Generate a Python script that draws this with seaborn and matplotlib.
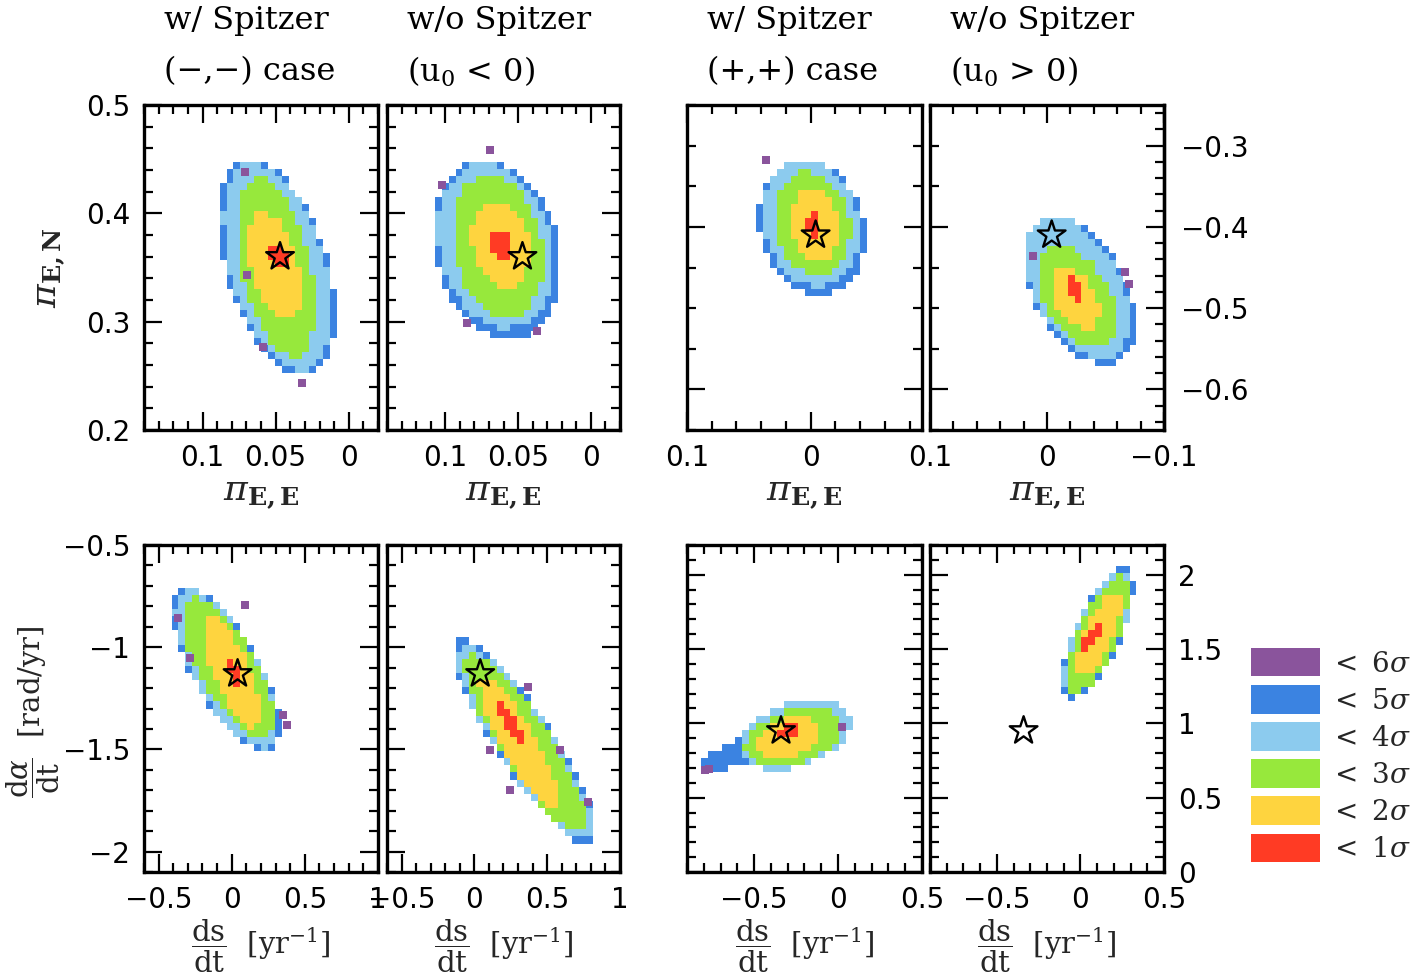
import numpy as np
import matplotlib
matplotlib.use("Agg")
import matplotlib.pyplot as plt
from matplotlib.colors import ListedColormap
from matplotlib.ticker import MultipleLocator, FuncFormatter, FixedLocator
from matplotlib.patches import Patch
import seaborn as sns

sns.set_theme(style="white")
plt.rcParams["font.family"] = ["DejaVu Sans"]
plt.rcParams["mathtext.fontset"] = "dejavuserif"

# ---------------- data ----------------
sigma_labels = [r"$<\ 1\sigma$", r"$<\ 2\sigma$", r"$<\ 3\sigma$",
                r"$<\ 4\sigma$", r"$<\ 5\sigma$", r"$<\ 6\sigma$"]
level_colors = ["#FF3B24", "#FED43F", "#97E83C", "#8CCBEE", "#3B83E1", "#8A549C"]

# right-hand tick values of the (+,+) pi_E panel
D_right_ticks = [-0.6, -0.5, -0.4, -0.3]

# Level regions (1 sigma ... 6 sigma): centre, half-extents, correlation
# Panel A: pi_E,N vs pi_E,E, w/ Spitzer (-,-)
A_cx = [0.048, 0.0504, 0.0497, 0.049, 0.049, 0.049]
A_cy = [0.360, 0.351, 0.350, 0.351, 0.350, 0.350]
A_hx = [0.006, 0.0185, 0.0267, 0.037, 0.040, 0.040]
A_hy = [0.011, 0.050, 0.0827, 0.096, 0.100, 0.100]
A_rho = [0.45, 0.45, 0.45, 0.45, 0.45, 0.45]
A_out_x = [0.071, 0.032, 0.0696, 0.0586]
A_out_y = [0.438, 0.243, 0.343, 0.2766]
A_star = (0.047, 0.36)

# Panel B: w/o Spitzer (u0 < 0)
B_cx = [0.0617, 0.0617, 0.064, 0.0658, 0.064, 0.064]
B_cy = [0.370, 0.372, 0.370, 0.370, 0.366, 0.366]
B_hx = [0.0075, 0.020, 0.031, 0.040, 0.044, 0.044]
B_hy = [0.014, 0.040, 0.066, 0.076, 0.083, 0.083]
B_rho = [0.2, 0.2, 0.2, 0.2, 0.2, 0.2]
B_out_x = [0.0692, 0.102, 0.085, 0.0369]
B_out_y = [0.4585, 0.426, 0.2987, 0.2913]
B_star = (0.047, 0.36)

# Panel C: w/ Spitzer (+,+)
C_cx = [-0.0025, -0.003, -0.001, 0.0, -0.001, -0.001]
C_cy = [-0.398, -0.398, -0.396, -0.395, -0.400, -0.400]
C_hx = [0.006, 0.019, 0.031, 0.039, 0.043, 0.043]
C_hy = [0.016, 0.048, 0.064, 0.078, 0.084, 0.084]
C_rho = [0.15, 0.15, 0.15, 0.15, 0.15, 0.15]
C_out_x = [0.036]
C_out_y = [-0.318]
C_star = (-0.004, -0.41)

# Panel D: w/o Spitzer (u0 > 0)
D_cx = [-0.025, -0.024, -0.026, -0.026, -0.028, -0.028]
D_cy = [-0.476, -0.487, -0.487, -0.475, -0.478, -0.478]
D_hx = [0.007, 0.021, 0.034, 0.044, 0.048, 0.048]
D_hy = [0.016, 0.039, 0.063, 0.0875, 0.092, 0.092]
D_rho = [0.45, 0.45, 0.45, 0.45, 0.45, 0.45]
D_out_x = [-0.067, -0.070, 0.012]
D_out_y = [-0.4556, -0.470, -0.436]
D_star = (-0.004, -0.41)

# Panel E: dalpha/dt vs ds/dt, w/ Spitzer (-,-)
E_cx = [0.02, 0.0, -0.03, -0.04, -0.04, -0.04]
E_cy = [-1.12, -1.12, -1.097, -1.107, -1.107, -1.107]
E_hx = [0.05, 0.195, 0.31, 0.349, 0.37, 0.37]
E_hy = [0.07, 0.27, 0.34, 0.387, 0.40, 0.40]
E_rho = [-0.72, -0.72, -0.72, -0.72, -0.72, -0.72]
E_out_x = [-0.3675, -0.285, 0.09, 0.35, 0.378]
E_out_y = [-0.857, -1.053, -0.794, -1.332, -1.38]
E_star = (0.04, -1.13)

# Panel F: w/o Spitzer (u0 < 0)
F_cx = [0.25, 0.31, 0.35, 0.345, 0.345, 0.345]
F_cy = [-1.37, -1.47, -1.47, -1.466, -1.466, -1.466]
F_hx = [0.09, 0.275, 0.42, 0.464, 0.49, 0.49]
F_hy = [0.10, 0.325, 0.44, 0.477, 0.50, 0.50]
F_rho = [-0.88, -0.88, -0.88, -0.88, -0.88, -0.88]
F_out_x = [0.368, 0.588, 0.245, 0.78, 0.107]
F_out_y = [-1.195, -1.503, -1.699, -1.757, -1.503]
F_star = (0.04, -1.13)

# Panel G: w/ Spitzer (+,+)
G_cx = [-0.29, -0.296, -0.263, -0.257, -0.40, -0.40]
G_cy = [0.95, 0.90, 0.91, 0.92, 0.88, 0.88]
G_hx = [0.07, 0.19, 0.29, 0.33, 0.42, 0.42]
G_hy = [0.05, 0.145, 0.20, 0.235, 0.20, 0.20]
G_rho = [0.35, 0.35, 0.35, 0.35, 0.85, 0.85]
G_out_x = [-0.79, -0.77, 0.023]
G_out_y = [0.686, 0.69, 0.975]
G_star = (-0.34, 0.95)

# Panel H: w/o Spitzer (u0 > 0)
H_cx = [0.08, 0.108, 0.10, 0.10, 0.10, 0.10]
H_cy = [1.594, 1.595, 1.59, 1.60, 1.60, 1.60]
H_hx = [0.06, 0.13, 0.185, 0.208, 0.217, 0.217]
H_hy = [0.10, 0.28, 0.40, 0.42, 0.44, 0.44]
H_rho = [0.72, 0.72, 0.72, 0.72, 0.72, 0.72]
H_out_x = []
H_out_y = []
H_star = (-0.34, 0.95)

titles_top = ["w/ Spitzer", "w/o Spitzer", "w/ Spitzer", "w/o Spitzer"]
titles_sub = ["(\u2212,\u2212) case", r"(u$_{\rm 0}$ < 0)", "(+,+) case", r"(u$_{\rm 0}$ > 0)"]

# ---------------- figure ----------------
W, H = 1422, 980
fig = plt.figure(figsize=(W / 100, H / 100), dpi=100)
fig.patch.set_facecolor("white")

lefts = [144, 387, 687, 930]
widths = [234, 233, 235, 234]
top_row = (430, 325)
bot_row = (872, 327)

cmap = ListedColormap(level_colors)
TICK_FS = 20


def fmt(v, pos):
    s = "%g" % round(v, 6)
    if s == "-0":
        s = "0"
    return s.replace("-", "\u2212")


def make_ax(i, row):
    yb, h = row
    return fig.add_axes([lefts[i] / W, 1 - yb / H, widths[i] / W, h / H])


def draw_panel(ax, cx, cy, hx, hy, rho, xlim, ylim, outx, outy, star, nx=34, ny=46):
    xe = np.linspace(min(xlim), max(xlim), nx + 1)
    ye = np.linspace(min(ylim), max(ylim), ny + 1)
    xc = 0.5 * (xe[:-1] + xe[1:])
    yc = 0.5 * (ye[:-1] + ye[1:])
    X, Y = np.meshgrid(xc, yc)
    lev = np.full(X.shape, np.nan)
    for k in reversed(range(6)):
        u = (X - cx[k]) / hx[k]
        v = (Y - cy[k]) / hy[k]
        r = rho[k]
        d2 = (u * u - 2 * r * u * v + v * v) / (1 - r * r)
        lev[d2 <= 1.0] = k
    ax.pcolormesh(xe, ye, np.ma.masked_invalid(lev), cmap=cmap, vmin=-0.5, vmax=5.5,
                  shading="flat", edgecolors="none", antialiased=False)
    if len(outx):
        sns.scatterplot(x=outx, y=outy, ax=ax, marker="s", s=40, color=level_colors[5],
                        linewidth=0, legend=False)
    sns.scatterplot(x=[star[0]], y=[star[1]], ax=ax, marker="*", s=440, color="black",
                    linewidth=1.7, legend=False, zorder=5)
    ax.collections[-1].set_facecolor("none")
    ax.collections[-1].set_edgecolor("black")
    ax.set_xlim(xlim)
    ax.set_ylim(ylim)


def style(ax, xmaj, xmin, ymaj, ymin, labelleft=False, labelright=False, right=True, left=True):
    ax.xaxis.set_major_locator(MultipleLocator(xmaj))
    ax.xaxis.set_minor_locator(MultipleLocator(xmin))
    ax.yaxis.set_major_locator(MultipleLocator(ymaj))
    ax.yaxis.set_minor_locator(MultipleLocator(ymin))
    ax.xaxis.set_major_formatter(FuncFormatter(fmt))
    ax.yaxis.set_major_formatter(FuncFormatter(fmt))
    ax.tick_params(which="both", direction="in", top=True, bottom=True, left=left, right=right,
                   labelleft=labelleft, labelright=labelright, labelbottom=True, labeltop=False,
                   color="black", labelsize=TICK_FS, labelcolor="black")
    ax.tick_params(which="major", length=13, width=1.6)
    ax.tick_params(which="minor", length=6.5, width=1.6)
    ax.tick_params(axis="x", which="major", pad=10)
    ax.tick_params(axis="y", which="major", pad=10)
    for sp in ax.spines.values():
        sp.set_linewidth(2.4)
        sp.set_color("black")
        sp.set_visible(True)
    ax.set_facecolor("white")
    ax.set_xlabel("")
    ax.set_ylabel("")


eps = 1e-6
# Top row
xlimAB = (0.14, -0.02)
ylimAB = (0.2 - eps, 0.5 + eps)
xlimC = (0.1 + eps, -0.09)
xlimD = (0.1 + eps, -0.1 - eps)
ylimCD = (-0.65, -0.25)
# Bottom row
xlimEF = (-0.6, 1.0 + eps)
ylimEF = (-2.1, -0.5 + eps)
xlimGH = (-0.9, 0.5 + eps)
ylimGH = (0.0 - eps, 2.2)

axA = make_ax(0, top_row)
draw_panel(axA, A_cx, A_cy, A_hx, A_hy, A_rho, xlimAB, ylimAB, A_out_x, A_out_y, A_star)
style(axA, 0.05, 0.01, 0.1, 0.02, labelleft=True)

axB = make_ax(1, top_row)
draw_panel(axB, B_cx, B_cy, B_hx, B_hy, B_rho, xlimAB, ylimAB, B_out_x, B_out_y, B_star)
style(axB, 0.05, 0.01, 0.1, 0.02)

axC = make_ax(2, top_row)
draw_panel(axC, C_cx, C_cy, C_hx, C_hy, C_rho, xlimC, ylimCD, C_out_x, C_out_y, C_star)
style(axC, 0.1, 0.02, 0.2, 0.05)

axD = make_ax(3, top_row)
draw_panel(axD, D_cx, D_cy, D_hx, D_hy, D_rho, xlimD, ylimCD, D_out_x, D_out_y, D_star)
style(axD, 0.1, 0.02, 0.2, 0.05, right=False)
secD = axD.secondary_yaxis("right")
secD.yaxis.set_major_locator(FixedLocator(D_right_ticks))
secD.yaxis.set_minor_locator(MultipleLocator(0.02))
secD.yaxis.set_major_formatter(FuncFormatter(fmt))
secD.tick_params(which="both", direction="in", labelsize=TICK_FS, color="black", labelcolor="black")
secD.tick_params(which="major", length=13, width=1.6, pad=12)
secD.tick_params(which="minor", length=6.5, width=1.6)
secD.spines["right"].set_linewidth(2.4)

axE = make_ax(0, bot_row)
draw_panel(axE, E_cx, E_cy, E_hx, E_hy, E_rho, xlimEF, ylimEF, E_out_x, E_out_y, E_star)
style(axE, 0.5, 0.1, 0.5, 0.1, labelleft=True)

axF = make_ax(1, bot_row)
draw_panel(axF, F_cx, F_cy, F_hx, F_hy, F_rho, xlimEF, ylimEF, F_out_x, F_out_y, F_star)
style(axF, 0.5, 0.1, 0.5, 0.1)

axG = make_ax(2, bot_row)
draw_panel(axG, G_cx, G_cy, G_hx, G_hy, G_rho, xlimGH, ylimGH, G_out_x, G_out_y, G_star)
style(axG, 0.5, 0.1, 0.5, 0.1)

axH = make_ax(3, bot_row)
draw_panel(axH, H_cx, H_cy, H_hx, H_hy, H_rho, xlimGH, ylimGH, H_out_x, H_out_y, H_star)
style(axH, 0.5, 0.1, 0.5, 0.1, labelright=True)

# Column titles
for i in range(4):
    xs = (lefts[i] + 20) / W
    fig.text(xs, 1 - 20 / H, titles_top[i], ha="left", va="center", fontsize=23,
             family="DejaVu Serif", color="black")
    fig.text(xs, 1 - 72 / H, titles_sub[i], ha="left", va="center", fontsize=23,
             family="DejaVu Serif", color="black")

# Axis labels
for i in range(4):
    xc = (lefts[i] + widths[i] / 2) / W
    fig.text(xc, 1 - 494 / H, r"$\pi_{\mathbf{E,E}}$", ha="center", va="center", fontsize=26)
    fig.text(xc, 1 - 946 / H, r"$\dfrac{\mathrm{ds}}{\mathrm{dt}}\ \ [\mathrm{yr}^{-1}]$",
             ha="center", va="center", fontsize=21)

fig.text(50 / W, 1 - 268 / H, r"$\pi_{\mathbf{E,N}}$", ha="center", va="center",
         rotation=90, fontsize=26)
fig.text(33 / W, 1 - 712 / H, r"$\dfrac{\mathrm{d}\alpha}{\mathrm{dt}}\ \ [\mathrm{rad/yr}]$",
         ha="center", va="center", rotation=90, fontsize=21)

# Legend (6 sigma on top)
handles = [Patch(facecolor=level_colors[k], edgecolor="none", label=sigma_labels[k])
           for k in reversed(range(6))]
fig.legend(handles=handles, loc="upper left", bbox_to_anchor=(1251 / W, 1 - 648 / H),
           frameon=False, borderaxespad=0, borderpad=0, handlelength=2.5, handleheight=1.2,
           labelspacing=0.27, handletextpad=0.3, prop={"family": "DejaVu Serif", "size": 20})

fig.savefig("out.png", dpi=100, facecolor="white")
